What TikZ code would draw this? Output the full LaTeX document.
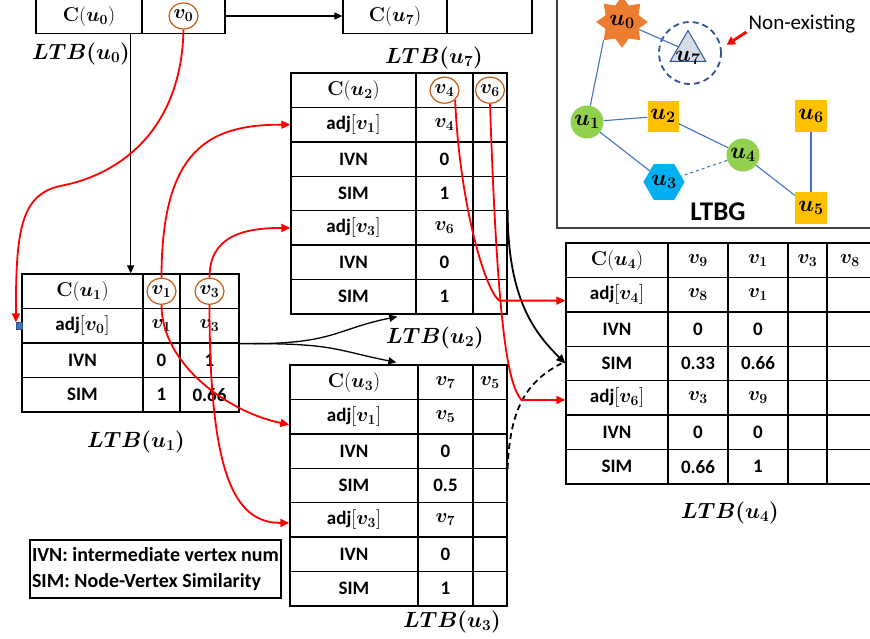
\RequirePackage{fix-cm}
\documentclass[tikz,border=0pt]{standalone}
\usepackage{amsmath}
\usepackage[no-math]{fontspec}
\setmainfont{Carlito}
\usepackage{tikz}
\usetikzlibrary{shapes.geometric, arrows.meta, positioning, calc}
\definecolor{ringc}{HTML}{C55A11}
\definecolor{gblue}{HTML}{4472C4}
\definecolor{gorange}{HTML}{ED7D31}
\definecolor{ggreen}{HTML}{92D050}
\definecolor{ggold}{HTML}{FFC000}
\definecolor{gcyan}{HTML}{00B0F0}
\definecolor{gnavy}{HTML}{2F5597}
\definecolor{gtri}{HTML}{D6DCE5}
\newcommand{\fs}[1]{\fontsize{#1}{#1}\selectfont}
\newcommand{\vv}[1]{{\fs{20}$\boldsymbol{v_{#1}}$}}
\newcommand{\cu}[1]{{\fs{20}$\mathbf{C}(\boldsymbol{u_{#1}})$}}
\newcommand{\adj}[1]{adj{\fs{20}$[\boldsymbol{v_{#1}}]$}}

\begin{document}
\begin{tikzpicture}[x=1pt, y=-1pt, >=Triangle]
    \tikzset{cell/.style={draw, line width=1.3pt, minimum height=34.4pt, inner sep=0pt, font=\fs{19}\bfseries},
        ring/.style={draw=ringc, line width=1.2pt, ellipse, minimum width=29pt, minimum height=26pt, inner sep=0pt},
        ltb/.style={font=\fs{22}},
        redarr/.style={red, line width=1.8pt, -{Triangle[length=9pt, width=8pt]}},
        blkarr/.style={line width=1.3pt, -{Triangle[length=8pt, width=7pt]}},
        gnode/.style={inner sep=0pt, font=\fs{23}},
        gline/.style={gblue, line width=1.1pt}
    }
    \useasboundingbox (0,0) rectangle (870,638);
    \clip (0,0) rectangle (870,638);
    \fill[white] (0,0) rectangle (870,638);

    \node (T0-0-0) [cell, minimum width=106pt] at (89,16) {\cu{0}};
    \node (T0-0-1) [cell, minimum width=83pt] at (183.5,16) {\vv{0}};
    \node (T7-0-0) [cell, minimum width=104pt] at (395,16) {\cu{7}};
    \node (T7-0-1) [cell, minimum width=85pt] at (489.5,16) {};

    \foreach \r/\a/\b/\c in {0/{\cu{1}}/{\vv{1}}/{\vv{3}}, 1/{\adj{0}}/{\vv{1}}/{\vv{3}}, 2/IVN/0/1, 3/SIM/1/0.66} {
        \node (T1-\r-0) [cell, minimum width=121pt] at (82.5, 291.25+34.5*\r) {\a};
        \node (T1-\r-1) [cell, minimum width=37pt] at (161.5, 291.25+34.5*\r) {\b};
        \node (T1-\r-2) [cell, minimum width=59pt] at (209.5, 291.25+34.5*\r) {\c};
    }

    \foreach \r/\a/\b/\c in {0/{\cu{2}}/{\vv{4}}/{\vv{6}}, 1/{\adj{1}}/{\vv{4}}/{}, 2/IVN/0/{}, 3/SIM/1/{}, 4/{\adj{3}}/{\vv{6}}/{}, 5/IVN/0/{}, 6/SIM/1/{}} {
        \node (T2-\r-0) [cell, minimum width=125pt] at (353.5, 90.2+34.43*\r) {\a};
        \node (T2-\r-1) [cell, minimum width=57pt] at (444.5, 90.2+34.43*\r) {\b};
        \node (T2-\r-2) [cell, minimum width=34pt] at (490, 90.2+34.43*\r) {\c};
    }

    \foreach \r/\a/\b/\c in {0/{\cu{3}}/{\vv{7}}/{\vv{5}}, 1/{\adj{1}}/{\vv{5}}/{}, 2/IVN/0/{}, 3/SIM/0.5/{}, 4/{\adj{3}}/{\vv{7}}/{}, 5/IVN/0/{}, 6/SIM/1/{}} {
        \node (T3-\r-0) [cell, minimum width=128pt] at (354, 382.2+34.43*\r) {\a};
        \node (T3-\r-1) [cell, minimum width=55pt] at (445.5, 382.2+34.43*\r) {\b};
        \node (T3-\r-2) [cell, minimum width=34pt] at (490, 382.2+34.43*\r) {\c};
    }

    \foreach \r/\a/\b/\c/\d/\e in {0/{\cu{4}}/{\vv{9}}/{\vv{1}}/{\vv{3}}/{\vv{8}}, 1/{\adj{4}}/{\vv{8}}/{\vv{1}}/{}/{}, 2/IVN/0/0/{}/{}, 3/SIM/0.33/0.66/{}/{}, 4/{\adj{6}}/{\vv{3}}/{\vv{9}}/{}/{}, 5/IVN/0/0/{}/{}, 6/SIM/0.66/1/{}/{}} {
        \node (T4-\r-0) [cell, minimum width=102pt] at (617, 260.2+34.43*\r) {\a};
        \node (T4-\r-1) [cell, minimum width=60pt] at (698, 260.2+34.43*\r) {\b};
        \node (T4-\r-2) [cell, minimum width=60pt] at (758, 260.2+34.43*\r) {\c};
        \node (T4-\r-3) [cell, minimum width=39pt] at (807.5, 260.2+34.43*\r) {\d};
        \node (T4-\r-4) [cell, minimum width=46pt] at (850, 260.2+34.43*\r) {\e};
    }

    \node (Rv0) [ring] at (T0-0-1) {};
    \node (Rv1) [ring] at (T1-0-1) {};
    \node (Rv3) [ring] at (T1-0-2) {};
    \node (Rv4) [ring] at (T2-0-1) {};
    \node (Rv6) [ring] at (T2-0-2) {};

    \node (L0) [ltb] at (81,54) {$\boldsymbol{LTB(u_0)}$};
    \node (L7) [ltb] at (434,58) {$\boldsymbol{LTB(u_7)}$};
    \node (L1) [ltb] at (136,442) {$\boldsymbol{LTB(u_1)}$};
    \node (L2) [ltb] at (435,338) {$\boldsymbol{LTB(u_2)}$};
    \node (L3) [ltb] at (452,622) {$\boldsymbol{LTB(u_3)}$};
    \node (L4) [ltb] at (730,513) {$\boldsymbol{LTB(u_4)}$};

    \node (legend) [draw, line width=1.2pt, align=left, font=\fontsize{20}{26}\selectfont\bfseries, inner xsep=2pt, minimum width=247pt, minimum height=58pt] at (155.5,569) {IVN: intermediate vertex num\\SIM: Node-Vertex Similarity};

    \node (sq) [fill=gblue, draw=gblue!70!black, line width=0.4pt, minimum size=6.5pt, inner sep=0pt] at ([xshift=-2pt]T1-1-0.west) {};

    \draw[blkarr] (T0-0-1.east) -- (T7-0-0.west);
    \coordinate (drop) at ([xshift=-12pt]T0-0-0.south east);
    \draw[blkarr] (drop) -- (drop |- T1-0-0.north);

    \coordinate (split) at ([xshift=14pt]T1-1-2.south east);
    \draw[blkarr] (T1-1-2.south east) -- (split) .. controls +(80,0) and +(-60,12) .. ([xshift=-18pt, yshift=-2pt]T2-6-1.south west);
    \draw[blkarr] (split) .. controls +(80,0) and +(-60,-12) .. ([xshift=-21pt, yshift=2pt]T3-0-1.north west);
    \draw[line width=1.8pt, -{Triangle[length=9pt, width=8pt]}] (T2-4-2.north east) .. controls +(0,90) and +(-30,-30) .. (T4-3-0.west);
    \draw[line width=1.8pt, dash pattern=on 6pt off 4pt] (T3-2-2.south east) .. controls +(2,-60) and +(-35,18) .. ([xshift=-4pt]T4-3-0.west);

    \draw[redarr] (Rv0.south) .. controls +(-2,100) and +(60,-11) .. (60,186) .. controls +(-40,9) and +(0,-90) .. (sq.north west);
    \draw[redarr] (Rv1.north) .. controls +(0,-130) and +(-80,0) .. (T2-1-0.west);
    \draw[redarr] (Rv3.north) .. controls +(0,-40) and +(-50,0) .. (T2-4-0.west);
    \draw[redarr] (Rv1.south) .. controls +(0,60) and +(-60,-12) .. ([yshift=-8pt]T3-1-0.west);
    \draw[redarr] (Rv3.south) .. controls +(0,170) and +(-55,0) .. ([yshift=-3pt]T3-4-0.west);
    \draw[redarr] (Rv4.south east) .. controls +(4,100) and +(-15,-11) .. ([xshift=-66pt, yshift=-6pt]T4-1-0.west) -- ([yshift=-6pt]T4-1-0.west);
    \draw[redarr] (Rv6.south) .. controls +(8,240) and +(-12,-15) .. ([xshift=-44pt, yshift=-2pt]T4-4-0.west) -- ([yshift=-2pt]T4-4-0.west);

    \draw[line width=2pt, black!75] (557,-5) |- (880,228);
    \node (u0) [gnode, star, star points=8, star point ratio=1.45, minimum size=44pt, fill=gorange] at (622,22) {$\boldsymbol{u_0}$};
    \node (u7) [regular polygon, regular polygon sides=3, minimum size=41pt, fill=gtri, draw=gnavy, line width=1pt, inner sep=0pt,
        label={[font=\fs{23}, yshift=-7pt]center:$\boldsymbol{u_7}$}] at (688,51) {};
    \node (u7ring) [circle, draw=gnavy, dash pattern=on 6pt off 4pt, line width=1.8pt, minimum size=62pt] at (690,53) {};
    \node (netext) [font=\fs{21}, inner sep=1pt] at (802,24) {Non-existing};
    \draw[red, line width=2.8pt, -{Triangle[length=8pt, width=9pt]}] ([xshift=-1pt, yshift=-8pt]netext.west) -- ([xshift=6pt]u7ring.15);
    \node (u1) [gnode, circle, fill=ggreen, minimum size=33pt] at (587,122) {$\boldsymbol{u_1}$};
    \node (u2) [gnode, fill=ggold, minimum size=31pt] at (663,116) {$\boldsymbol{u_2}$};
    \node (u4) [gnode, circle, fill=ggreen, minimum size=33pt] at (743,155) {$\boldsymbol{u_4}$};
    \node (u3) [gnode, regular polygon, regular polygon sides=6, fill=gcyan, minimum size=39pt] at (664,182) {$\boldsymbol{u_3}$};
    \node (u6) [gnode, fill=ggold, minimum size=32pt] at (811,116) {$\boldsymbol{u_6}$};
    \node (u5) [gnode, fill=ggold, minimum size=32pt] at (811,208) {$\boldsymbol{u_5}$};
    \node (ltbg) [font=\fs{27}\bfseries] at (718,212) {LTBG};
    \draw[gline] (u0.south west) -- (u1);
    \draw[gline] (u0) -- (u7);
    \draw[gline] (u1) -- (u2);
    \draw[gline] (u1) -- (u3);
    \draw[gline] (u2) -- (u4);
    \draw[gline, dashed] (u4) -- (u3);
    \draw[gline] (u4) -- (u5);
    \draw[gline] (u6) -- (u5);
\end{tikzpicture}
\end{document}
